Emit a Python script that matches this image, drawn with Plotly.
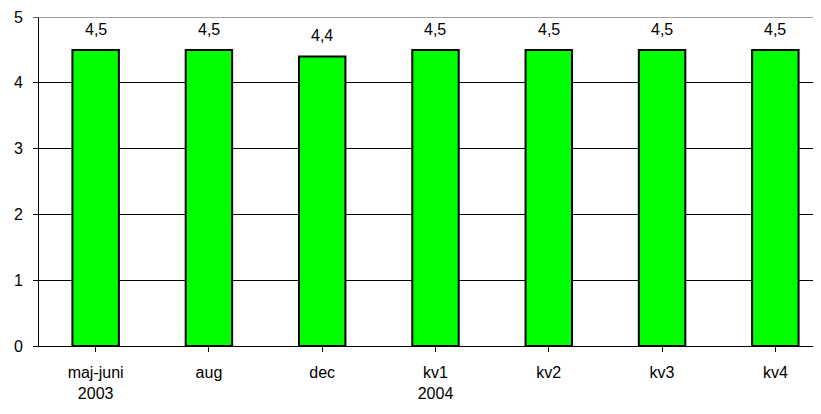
import plotly.graph_objects as go

categories = ["maj-juni<br>2003", "aug", "dec", "kv1<br>2004", "kv2", "kv3", "kv4"]
values = [4.5, 4.5, 4.4, 4.5, 4.5, 4.5, 4.5]
value_labels = ["4,5", "4,5", "4,4", "4,5", "4,5", "4,5", "4,5"]
y_ticks = [0, 1, 2, 3, 4, 5]

FONT = "Liberation Sans, Arial, sans-serif"

fig = go.Figure()
fig.add_trace(go.Bar(
    x=list(range(len(categories))),
    y=values,
    width=0.41,
    marker=dict(color="#00FF00", line=dict(color="#000000", width=2)),
    hoverinfo="skip",
))

for i, (v, t) in enumerate(zip(values, value_labels)):
    fig.add_annotation(x=i, y=v, text=t, showarrow=False, yanchor="bottom",
                       yshift=10, font=dict(family=FONT, size=16, color="#000"))

fig.add_shape(type="line", xref="paper", yref="y", x0=-6 / 782, x1=1, y0=5, y1=5,
              line=dict(color="#808080", width=1.5), layer="above")

# the page body has an 8px default margin, so the figure is offset by 8px
fig.update_layout(
    width=821, height=414,
    margin=dict(l=31, r=8, t=8.5, b=76),
    paper_bgcolor="white", plot_bgcolor="white",
    showlegend=False,
    font=dict(family=FONT, size=16, color="#000"),
    xaxis=dict(
        range=[-0.5, 6.403],
        tickmode="array",
        tickvals=list(range(len(categories))),
        ticktext=categories,
        tickson="boundaries",
        ticks="outside", ticklen=5, tickcolor="#000", tickwidth=1,
        showline=True, linecolor="#000", linewidth=1,
        showgrid=False, zeroline=False,
        ticklabelstandoff=7,
        automargin=False,
        tickfont=dict(family=FONT, size=16),
    ),
    yaxis=dict(
        range=[0, 5],
        tickmode="array", tickvals=y_ticks,
        ticktext=[str(t) for t in y_ticks],
        ticks="outside", ticklen=5, tickcolor="#000", tickwidth=1,
        showline=True, linecolor="#000", linewidth=1,
        showgrid=True, gridcolor="#000", gridwidth=1,
        zeroline=False,
        ticklabelstandoff=7,
        automargin=False,
        tickfont=dict(family=FONT, size=16),
    ),
)

fig.write_html("out.html")
